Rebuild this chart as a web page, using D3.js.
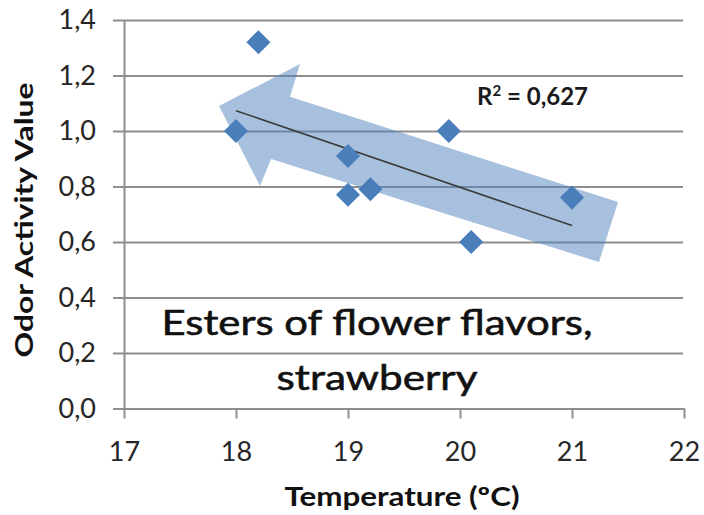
<!DOCTYPE html>
<html>
<head>
<meta charset="utf-8">
<script src="https://cdn.jsdelivr.net/npm/d3@7"></script>
<style>
  html, body { margin: 0; padding: 0; background: #fff; }
  svg { display: block; font-family: Lato, "Open Sans", sans-serif; }
</style>
</head>
<body>
<svg id="chart" width="704" height="515"></svg>
<script>
// data
const temps = [18.2, 18.0, 19.0, 19.0, 19.2, 19.9, 20.1, 21.0];
const oav   = [1.32, 1.00, 0.91, 0.77, 0.79, 1.00, 0.60, 0.76];

const xTicks = [17, 18, 19, 20, 21, 22];
const yTicks = [0, 0.2, 0.4, 0.6, 0.8, 1.0, 1.2, 1.4];

const r2Label = "0,627";
const noteLines = ["Esters of flower flavors,", "strawberry"];

// the big arrow drawn over the plot, in data units
const arrowX = [17.848, 18.571, 18.482, 21.411, 21.241, 18.313, 18.214];
const arrowY = [1.090, 1.241, 1.123, 0.744, 0.528, 0.899, 0.802];

const svg = d3.select("#chart");

const x = d3.scaleLinear().domain([17, 22]).range([124, 684]);
const y = d3.scaleLinear().domain([0, 1.4]).range([408.5, 20]);

const comma = d3.formatLocale({ decimal: ",", thousands: ".", grouping: [3], currency: ["", ""] });
const fmtY = comma.format(".1f");

const gridColor = "#8e8e8e";

// gridlines (also give the small ticks left of the axis)
const grid = svg.append("g")
    .attr("transform", "translate(113,0)")
    .call(d3.axisLeft(y).tickValues(yTicks).tickSize(-570).tickFormat(""));
grid.select(".domain").remove();
grid.selectAll("line").attr("stroke", gridColor).attr("stroke-width", 2);

// y axis
const yAxis = svg.append("g")
    .attr("transform", "translate(124,0)")
    .call(d3.axisLeft(y).tickValues(yTicks).tickSize(0).tickSizeOuter(0).tickPadding(28).tickFormat(fmtY));
yAxis.select(".domain").attr("stroke", gridColor).attr("stroke-width", 2);
yAxis.selectAll("text")
    .attr("font-family", "Lato, sans-serif")
    .attr("font-size", 27)
    .attr("fill", "#262626");

// x axis
const xAxis = svg.append("g")
    .attr("transform", `translate(0,${y(0)})`)
    .call(d3.axisBottom(x).tickValues(xTicks).tickSizeInner(10).tickSizeOuter(0).tickFormat(d3.format("d")));
xAxis.select(".domain").attr("stroke", gridColor).attr("stroke-width", 2);
xAxis.selectAll("line").attr("stroke", gridColor).attr("stroke-width", 2);
xAxis.selectAll("text")
    .attr("y", 52)
    .attr("dy", 0)
    .attr("font-family", "Lato, sans-serif")
    .attr("font-size", 27)
    .attr("fill", "#262626");

// arrow annotation
svg.append("path")
    .datum(d3.zip(arrowX, arrowY))
    .attr("d", d3.line().x(d => x(d[0])).y(d => y(d[1])).curve(d3.curveLinearClosed))
    .attr("fill", "#4f81bd")
    .attr("fill-opacity", 0.5);

// linear trend line
const mx = d3.mean(temps), my = d3.mean(oav);
const sxy = d3.sum(temps, (t, i) => (t - mx) * (oav[i] - my));
const sxx = d3.sum(temps, t => (t - mx) * (t - mx));
const slope = sxy / sxx, icpt = my - slope * mx;
const trendX = d3.extent(temps);
svg.append("path")
    .datum(trendX)
    .attr("d", d3.line().x(t => x(t)).y(t => y(icpt + slope * t)))
    .attr("stroke", "#3a3a3a")
    .attr("stroke-width", 1.5)
    .attr("fill", "none");

// points
svg.append("g")
    .selectAll("path")
    .data(d3.zip(temps, oav))
    .join("path")
    .attr("transform", d => `translate(${x(d[0])},${y(d[1])}) rotate(45)`)
    .attr("d", d3.symbol(d3.symbolSquare, 290))
    .attr("fill", "#4a7ebb");

// R² label
const r2 = svg.append("text")
    .attr("x", 477).attr("y", 105)
    .attr("font-size", 24).attr("font-weight", 700)
    .attr("fill", "#1a1a1a");
r2.append("tspan").text("R");
r2.append("tspan").attr("dy", -9).attr("font-size", 15).text("2");
r2.append("tspan").attr("dy", 9).text(" = " + r2Label);

// note in the plot
svg.selectAll(".note")
    .data(noteLines)
    .join("text")
    .attr("class", "note")
    .attr("x", 377)
    .attr("y", (d, i) => 335 + i * 55)
    .attr("text-anchor", "middle")
    .attr("font-size", 35)
    .attr("fill", "#111")
    .attr("stroke", "#111")
    .attr("stroke-width", 0.6)
    .attr("textLength", (d, i) => i === 0 ? 431 : 201)
    .attr("lengthAdjust", "spacingAndGlyphs")
    .text(d => d);

// axis titles
svg.append("text")
    .attr("transform", "translate(33,220) rotate(-90)")
    .attr("text-anchor", "middle")
    .attr("font-size", 25).attr("font-weight", 700)
    .attr("textLength", 275).attr("lengthAdjust", "spacingAndGlyphs")
    .attr("fill", "#111")
    .text("Odor Activity Value");

svg.append("text")
    .attr("x", 402).attr("y", 506)
    .attr("text-anchor", "middle")
    .attr("font-size", 26).attr("font-weight", 700)
    .attr("textLength", 235).attr("lengthAdjust", "spacingAndGlyphs")
    .attr("fill", "#111")
    .text("Temperature (ºC)");
</script>
</body>
</html>
